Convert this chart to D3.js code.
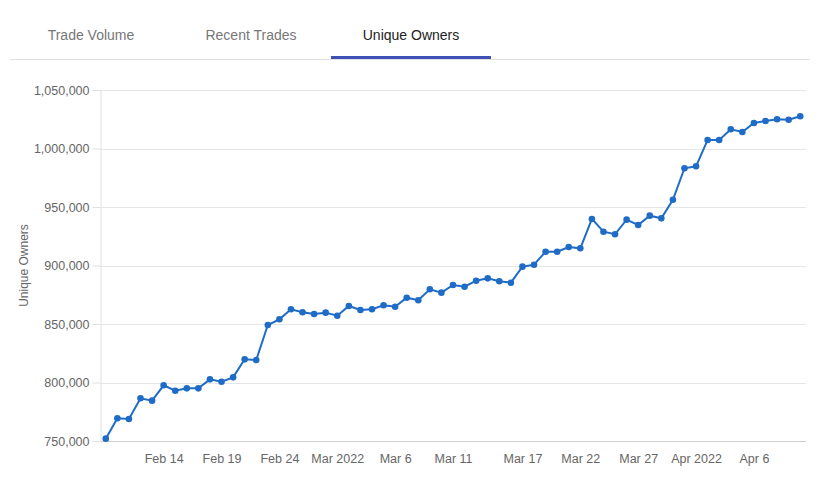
<!DOCTYPE html>
<html lang="en">
    <head>
        <meta charset="utf-8">
        <title>Unique Owners</title>
        <script src="https://d3js.org/d3.v7.min.js"></script>
        <style type="text/css">
            body { margin: 0; background: #fff; font-family: "Liberation Sans", Arial, sans-serif; }
            svg { display: block; }
        </style>
    </head>
    <body>
        <svg width="824" height="501"></svg>
        <script type="text/javascript">

            // tabs above the chart
            const tabs = ["Trade Volume", "Recent Trades", "Unique Owners"];
            const activeTab = 2;

            // one point per day, Feb 9 to Apr 10 2022
            const dates = [
                "2022-02-09","2022-02-10","2022-02-11","2022-02-12","2022-02-13","2022-02-14","2022-02-15",
                "2022-02-16","2022-02-17","2022-02-18","2022-02-19","2022-02-20","2022-02-21","2022-02-22",
                "2022-02-23","2022-02-24","2022-02-25","2022-02-26","2022-02-27","2022-02-28","2022-03-01",
                "2022-03-02","2022-03-03","2022-03-04","2022-03-05","2022-03-06","2022-03-07","2022-03-08",
                "2022-03-09","2022-03-10","2022-03-11","2022-03-12","2022-03-13","2022-03-14","2022-03-15",
                "2022-03-16","2022-03-17","2022-03-18","2022-03-19","2022-03-20","2022-03-21","2022-03-22",
                "2022-03-23","2022-03-24","2022-03-25","2022-03-26","2022-03-27","2022-03-28","2022-03-29",
                "2022-03-30","2022-03-31","2022-04-01","2022-04-02","2022-04-03","2022-04-04","2022-04-05",
                "2022-04-06","2022-04-07","2022-04-08","2022-04-09","2022-04-10"
            ];

            const owners = [
                752000, 769400, 768800, 786500, 784500, 797600, 793000,
                795000, 795000, 802700, 800700, 804400, 819800, 819200,
                849100, 854000, 862600, 860000, 858600, 859700, 857100,
                865400, 862000, 862600, 866000, 864800, 872500, 870300,
                879700, 876800, 883300, 881900, 887000, 889000, 886500,
                885300, 899000, 900700, 911800, 911800, 915800, 914700,
                939800, 928900, 926700, 939200, 934600, 942600, 940300,
                956200, 983100, 984800, 1007300, 1007300, 1016400, 1014100,
                1021800, 1023500, 1025000, 1024600, 1027500
            ];

            const xTickDates = ["2022-02-14","2022-02-19","2022-02-24","2022-03-01","2022-03-06",
                                "2022-03-11","2022-03-17","2022-03-22","2022-03-27","2022-04-01","2022-04-06"];
            const xTickLabels = ["Feb 14","Feb 19","Feb 24","Mar 2022","Mar 6",
                                 "Mar 11","Mar 17","Mar 22","Mar 27","Apr 2022","Apr 6"];
            const yTicks = [750000, 800000, 850000, 900000, 950000, 1000000, 1050000];

            const svg = d3.select("svg");
            const margin = {left: 100, right: 18, top: 90, bottom: 60};
            const w = 824, h = 501;

            const parseDate = d3.timeParse("%Y-%m-%d");
            const data = dates.map((d, i) => ({date: parseDate(d), value: owners[i]}));

            // tabs
            const tabW = 160, tabX0 = 11;
            svg.selectAll("text.tab")
               .data(tabs)
               .enter()
               .append("text")
               .attr("class", "tab")
               .attr("x", (d, i) => tabX0 + tabW * i + tabW / 2)
               .attr("y", 40)
               .attr("text-anchor", "middle")
               .style("font-size", "14px")
               .style("fill", (d, i) => i === activeTab ? "#222" : "#777")
               .text(d => d);

            svg.append("line")
               .attr("x1", 10).attr("x2", 810)
               .attr("y1", 59.5).attr("y2", 59.5)
               .style("stroke", "#e2e2e2");

            svg.append("rect")
               .attr("x", tabX0 + tabW * activeTab).attr("y", 56)
               .attr("width", tabW).attr("height", 3)
               .style("fill", "#3f51b5");

            // scales
            const halfDay = 12 * 3600 * 1000;
            const xScale = d3.scaleTime()
                             .domain([new Date(data[0].date - halfDay), new Date(+data[data.length - 1].date + halfDay)])
                             .range([margin.left, w - margin.right]);

            const yScale = d3.scaleLinear()
                             .domain([750000, 1050000])
                             .range([h - margin.bottom, margin.top]);

            // gridlines
            svg.selectAll("line.grid")
               .data(yTicks)
               .enter()
               .append("line")
               .attr("class", "grid")
               .attr("x1", margin.left).attr("x2", w - margin.right)
               .attr("y1", d => Math.round(yScale(d)) + 0.5)
               .attr("y2", d => Math.round(yScale(d)) + 0.5)
               .style("stroke", (d, i) => i === 0 ? "#cfcfcf" : "#e6e6e6");

            // y axis
            const yAxis = d3.axisLeft(yScale)
                            .tickValues(yTicks)
                            .tickSize(8)
                            .tickPadding(3)
                            .tickFormat(d3.format(","));
            const gy = svg.append("g")
                          .attr("transform", `translate(${margin.left + 0.5},0)`)
                          .call(yAxis);
            gy.select(".domain").style("stroke", "#e0e0e0");
            gy.selectAll(".tick line").style("stroke", "#e0e0e0");
            gy.selectAll(".tick text")
              .style("font-family", "Liberation Sans, Arial, sans-serif")
              .style("font-size", "12.5px")
              .style("fill", "#666");

            // x axis
            const xAxis = d3.axisBottom(xScale)
                            .tickValues(xTickDates.map(parseDate))
                            .tickSize(0)
                            .tickPadding(13)
                            .tickFormat((d, i) => xTickLabels[i]);
            const gx = svg.append("g")
                          .attr("transform", `translate(0,${h - margin.bottom})`)
                          .call(xAxis);
            gx.select(".domain").remove();
            gx.selectAll(".tick text")
              .style("font-family", "Liberation Sans, Arial, sans-serif")
              .style("font-size", "12.5px")
              .style("fill", "#666");

            // y axis title
            svg.append("text")
               .attr("transform", `translate(28,${(margin.top + h - margin.bottom) / 2}) rotate(-90)`)
               .attr("text-anchor", "middle")
               .style("font-size", "12px")
               .style("fill", "#666")
               .text("Unique Owners");

            // line
            const line = d3.line()
                           .x(d => xScale(d.date))
                           .y(d => yScale(d.value));

            svg.append("path")
               .datum(data)
               .attr("d", line)
               .style("fill", "none")
               .style("stroke", "#1f6cc7")
               .style("stroke-width", 2);

            svg.selectAll("circle")
               .data(data)
               .enter()
               .append("circle")
               .attr("cx", d => xScale(d.date))
               .attr("cy", d => yScale(d.value))
               .attr("r", 3.3)
               .style("fill", "#1f6cc7");

        </script>
    </body>
</html>
